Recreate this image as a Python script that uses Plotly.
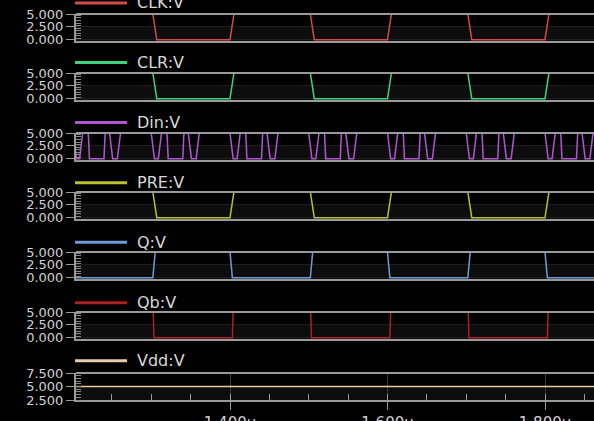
import plotly.graph_objects as go

# ---------------- data (time in microseconds, volts) ----------------
x_range = [1.20444, 1.86222]
x_tick_vals = [1.4, 1.6, 1.8]
x_tick_text = ["1.400u", "1.600u", "1.800u"]

signal_names = ["CLK:V", "CLR:V", "Din:V", "PRE:V", "Q:V", "Qb:V", "Vdd:V"]
signal_colors = ["#d04a4a", "#3ed27c", "#b056d2", "#b8c22c", "#6f9bd8", "#aa2222", "#e8caa8"]

# low pulses: (fall start, rise start)
clk_low = [(1.302, 1.400), (1.502, 1.600), (1.702, 1.800)]
clr_low = [(1.302, 1.400), (1.502, 1.600), (1.702, 1.800)]
pre_low = [(1.302, 1.400), (1.502, 1.600), (1.702, 1.800)]
# Q high pulses: (rise start, fall start)
q_high = [(1.302, 1.400), (1.502, 1.600), (1.702, 1.800)]
# Qb low pulses
qb_low = [(1.3025, 1.4030), (1.5025, 1.6030), (1.7025, 1.8030)]

# Din low pulses
din_low_start = [1.201, 1.220, 1.247, 1.300, 1.320, 1.347, 1.400, 1.420, 1.447,
                 1.500, 1.520, 1.547, 1.600, 1.620, 1.647, 1.700, 1.720, 1.747,
                 1.800, 1.820, 1.847]
din_low_end = [1.209, 1.240, 1.257, 1.309, 1.340, 1.357, 1.409, 1.440, 1.457,
               1.509, 1.540, 1.557, 1.609, 1.640, 1.657, 1.709, 1.740, 1.757,
               1.809, 1.840, 1.857]
din_edge = [0.004, 0.0015, 0.004, 0.004, 0.0015, 0.004, 0.004, 0.0015, 0.004,
            0.004, 0.0015, 0.004, 0.004, 0.0015, 0.004, 0.004, 0.0015, 0.004,
            0.004, 0.0015, 0.004]

vdd_level = 5.0

logic_range = [-0.25, 5.0]
logic_ticks = [0.0, 2.5, 5.0]
logic_text = ["0.000", "2.500", "5.000"]
vdd_range = [2.5, 7.5]
vdd_ticks = [2.5, 5.0, 7.5]
vdd_text = ["2.500", "5.000", "7.500"]

# ---------------- layout geometry (pixels) ----------------
W, H = 594, 421
ML, MT, MB = 76, 14, 21
plot_top, plot_bot = MT, H - MB
plot_h = plot_bot - plot_top
plot_w = W - ML
panel_tops = [14, 73, 133, 192, 252, 312, 373]
panel_h = 27
legend_y = [3, 62.5, 122.5, 182.7, 242.3, 302.7, 360.7]


def pulses(intervals, idle, active, edges, t0, t1):
    xs, ys = [t0], [idle]
    for (a, b), e in zip(intervals, edges):
        xs += [a, a + e, b, b + e]
        ys += [idle, active, active, idle]
    xs.append(t1)
    ys.append(idle)
    return xs, ys


t0, t1 = 1.19, 1.87
waves = [
    pulses(clk_low, 5.0, 0.0, [0.005] * len(clk_low), t0, t1),
    pulses(clr_low, 5.0, 0.0, [0.005] * len(clr_low), t0, t1),
    pulses(list(zip(din_low_start, din_low_end)), 5.0, 0.0, din_edge, t0, t1),
    pulses(pre_low, 5.0, 0.0, [0.005] * len(pre_low), t0, t1),
    pulses(q_high, 0.0, 5.0, [0.003] * len(q_high), t0, t1),
    pulses(qb_low, 5.0, 0.0, [0.001] * len(qb_low), t0, t1),
    ([t0, t1], [vdd_level, vdd_level]),
]

fig = go.Figure()
frame = "#9a9a9a"
ytick_font = dict(family="DejaVu Sans", size=13, color="#d2d2d2")
xtick_font = dict(family="DejaVu Sans", size=15, color="#d2d2d2")
shapes, annotations = [], []

for i in range(7):
    n = i + 1
    sfx = "" if n == 1 else str(n)
    xs, ys = waves[i]
    fig.add_trace(go.Scatter(x=xs, y=ys, mode="lines",
                             line=dict(color=signal_colors[i], width=1.5),
                             xaxis=f"x{sfx}", yaxis=f"y{sfx}",
                             showlegend=False, hoverinfo="skip"))
    top = panel_tops[i]
    dom = [(plot_bot - (top + panel_h)) / plot_h, (plot_bot - top) / plot_h]
    last = (i == 6)
    yr = vdd_range if last else logic_range
    xa = dict(domain=[0, 1], anchor=f"y{sfx}", range=x_range, automargin=False,
              showline=True, mirror=False, linecolor=frame, linewidth=2,
              zeroline=False, showgrid=last, gridcolor="#3c3c3c", gridwidth=1,
              showticklabels=last, ticks="outside" if last else "",
              tickmode="array", tickvals=x_tick_vals, ticktext=x_tick_text,
              ticklen=8, tickcolor=frame, tickwidth=1, tickfont=xtick_font)
    if last:
        xa["minor"] = dict(tickmode="linear", tick0=1.2, dtick=0.05,
                           ticks="inside", ticklen=6, tickcolor=frame,
                           showgrid=False)
    if n > 1:
        xa["matches"] = "x"
    ya = dict(domain=dom, anchor=f"x{sfx}", range=yr, automargin=False,
              tickmode="array",
              tickvals=vdd_ticks if last else logic_ticks,
              ticktext=vdd_text if last else logic_text,
              ticks="outside", ticklen=8, tickcolor=frame, tickwidth=1,
              showline=True, linecolor=frame, linewidth=2,
              zeroline=False, showgrid=True, gridcolor="#1e1e1e",
              tickfont=ytick_font,
              minor=dict(tickmode="linear", tick0=yr[0], dtick=0.5,
                         ticks="inside", ticklen=5, tickcolor="#8a8a8a",
                         showgrid=False))
    fig.layout[f"xaxis{sfx}"] = xa
    fig.layout[f"yaxis{sfx}"] = ya
    # slightly lighter lower half band
    shapes.append(dict(type="rect", xref=f"x{sfx} domain", yref=f"y{sfx}",
                       x0=0, x1=1, y0=yr[0], y1=(yr[0] + yr[1]) / 2 if last else 2.5,
                       fillcolor="#0d0d0d", line=dict(width=0), layer="below"))
    # top frame edge drawn over the traces (hides the 5 V level, as in the viewer)
    shapes.append(dict(type="line", xref=f"x{sfx} domain", yref=f"y{sfx} domain",
                       x0=0, x1=1, y0=1, y1=1, layer="above",
                       line=dict(color=frame, width=2)))
    # legend key
    ly = (plot_bot - legend_y[i]) / plot_h
    shapes.append(dict(type="line", xref="paper", yref="paper",
                       x0=(75 - ML) / plot_w, x1=(127 - ML) / plot_w, y0=ly, y1=ly,
                       line=dict(color=signal_colors[i], width=3)))
    annotations.append(dict(text=signal_names[i], xref="paper", yref="paper",
                            x=(135 - ML) / plot_w, y=ly, xanchor="left",
                            yanchor="middle", showarrow=False,
                            font=dict(family="DejaVu Sans", size=16, color="#d8d8d8")))

fig.update_layout(width=W, height=H, autosize=False,
                  margin=dict(l=ML, r=0, t=MT, b=MB, pad=0, autoexpand=False),
                  paper_bgcolor="#000000", plot_bgcolor="#000000",
                  shapes=shapes, annotations=annotations, showlegend=False)

fig.write_html("out.html", config={"displayModeBar": False})

# remove the default page margin so the figure sits at the window's corner
with open("out.html", encoding="utf-8") as f:
    html = f.read()
html = html.replace("<head>", "<head><style>html,body{margin:0;padding:0;"
                    "background:#000;overflow:hidden}</style>", 1)
with open("out.html", "w", encoding="utf-8") as f:
    f.write(html)
